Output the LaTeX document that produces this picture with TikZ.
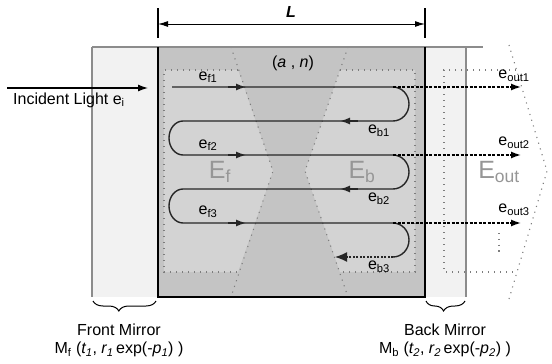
\documentclass[tikz,border=0pt]{standalone}
\usepackage{fontspec}
\setmainfont{Liberation Sans}
\usetikzlibrary{positioning,arrows.meta,decorations.pathreplacing}
\definecolor{cav}{RGB}{196,196,196}
\definecolor{zone}{RGB}{211,211,211}
\definecolor{mir}{RGB}{242,242,242}
\definecolor{edge}{RGB}{140,140,140}
\definecolor{dots}{RGB}{125,125,125}
\definecolor{ghost}{RGB}{150,150,150}
\newcommand{\sub}[1]{\textsubscript{#1}}
\tikzset{
  beam/.style={line width=1.4pt,draw=black!85},
  tip/.style={-{Latex[length=10pt,width=7pt]}},
  bigtip/.style={-{Latex[length=12pt,width=10pt]}},
  outbeam/.style={line width=1.4pt,dash pattern=on 3pt off 1.5pt,tip},
  dotline/.style={draw=dots,line width=1.1pt,dash pattern=on 1.1pt off 4.9pt},
  lbl/.style={font=\fontsize{16}{18}\selectfont,inner sep=0pt},
  zlbl/.style={font=\fontsize{25}{28}\selectfont,text=ghost,inner sep=0pt},
  brc/.style={decorate,decoration={brace,mirror,amplitude=10pt},line width=1pt},
}
\begin{document}
\begin{tikzpicture}[x=1pt,y=-1pt]
  \useasboundingbox (0,0) rectangle (552,364);
  % mirrors and cavity
  \fill[mir] (92,47) rectangle (158,297);
  \fill[mir] (425,47) rectangle (466,297);
  \fill[cav] (158,47) rectangle (425,297);
  \fill[zone] (164,70) -- (238,70) -- (273,171) -- (238,272) -- (164,272) -- cycle;
  \fill[zone] (415,70) -- (340,70) -- (305,171) -- (340,272) -- (415,272) -- cycle;
  \draw[edge,line width=1.5pt] (92,47) -- (92,297);
  \draw[edge,line width=1.5pt] (466,47) -- (466,297);
  % field regions
  \draw[dotline] (231,47) -- (273,171) -- (231,297);
  \draw[dotline] (238,70) -- (164,70) -- (164,272) -- (238,272);
  \draw[dotline] (348,47) -- (305,171) -- (348,297);
  \draw[dotline] (340,70) -- (415,70) -- (415,272) -- (340,272);
  \draw[dotline] (509,45) -- (547,171) -- (509,299);
  \draw[dotline] (516,70) -- (444,70) -- (444,272) -- (516,272);
  \draw[edge,line width=1.3pt] (92,47) -- (483,47);
  \draw[line width=1.2pt] (158,47) -- (158,297) -- (425,297) -- (425,47);

  % length L
  \coordinate (dimL) at (158,24);
  \coordinate (dimR) at (425,24);
  \draw[line width=1.2pt] (158,8) -- (158,38) (425,8) -- (425,38);
  \draw[line width=1pt,{Latex[length=10pt,width=6pt]}-{Latex[length=10pt,width=6pt]}]
    (dimL) -- (dimR);
  \node[lbl,font=\fontsize{16}{18}\selectfont\bfseries\itshape] (len) at (291,12) {L};
  \node[lbl] (medium) at (293,63) {(\textit{a} , \textit{n})};

  % light path
  \foreach \r/\y in {1/87,2/121,3/155,4/189,5/223,6/257} {
    \coordinate (L\r) at (183,\y);
    \coordinate (R\r) at (393,\y);
  }
  \coordinate (start) at (172,87);
  \coordinate (src) at (7,88);
  \coordinate (hit) at (148,88);
  \draw[line width=1.3pt,tip] (src) -- (hit);
  \draw[beam] (start) -- (R1)
    arc[start angle=90,end angle=-90,x radius=16pt,y radius=17pt] -- (L2)
    arc[start angle=90,end angle=270,x radius=14pt,y radius=17pt] -- (R3)
    arc[start angle=90,end angle=-90,x radius=16pt,y radius=17pt] -- (L4)
    arc[start angle=90,end angle=270,x radius=14pt,y radius=17pt] -- (R5)
    arc[start angle=90,end angle=-90,x radius=16pt,y radius=17pt];
  \draw[beam,dash pattern=on 2pt off 1.5pt,bigtip] (R6) -- (335,257);
  \foreach \y in {87,155,223} {
    \draw[beam,tip] (228,\y) -- (246,\y);
    \draw[outbeam] (393,\y) -- (521,\y);
  }
  \foreach \y in {121,189} {
    \draw[beam,tip] (358,\y) -- (340,\y);
  }
  \draw[dots,line width=1.3pt,dash pattern=on 1.3pt off 4.5pt] (499,233) -- (499,254);

  % labels
  \node[lbl,anchor=west] (inc) at (13,100) {Incident Light e\sub{i}};
  \node[lbl] (ef1) at (208,77) {e\sub{f1}};
  \node[lbl] (ef2) at (208,145) {e\sub{f2}};
  \node[lbl] (ef3) at (208,212) {e\sub{f3}};
  \node[lbl] (eb1) at (379,131) {e\sub{b1}};
  \node[lbl] (eb2) at (379,199) {e\sub{b2}};
  \node[lbl] (eb3) at (379,267) {e\sub{b3}};
  \node[lbl] (eo1) at (514,76) {e\sub{out1}};
  \node[lbl] (eo2) at (514,143) {e\sub{out2}};
  \node[lbl] (eo3) at (514,210) {e\sub{out3}};
  \node[zlbl] (Ef) at (220,172) {E\sub{f}};
  \node[zlbl] (Eb) at (362,172) {E\sub{b}};
  \node[zlbl] (Eo) at (499,172) {E\sub{out}};

  % mirrors
  \draw[brc,decoration={aspect=0.41}] (93,301) -- (156,301);
  \draw[brc,decoration={aspect=0.45}] (426,301) -- (465,301);
  \node[lbl] (fm) at (119,330) {Front Mirror};
  \node[lbl,below=6pt of fm] (fmp)
    {M\sub{f} (\textit{t\sub{1}}, \textit{r\sub{1}}\,exp(-\textit{p\sub{1}}) )};
  \node[lbl] (bm) at (445,330) {Back Mirror};
  \node[lbl,below=6pt of bm] (bmp)
    {M\sub{b} (\textit{t\sub{2}}, \textit{r\sub{2}}\,exp(-\textit{p\sub{2}}) )};
\end{tikzpicture}
\end{document}
